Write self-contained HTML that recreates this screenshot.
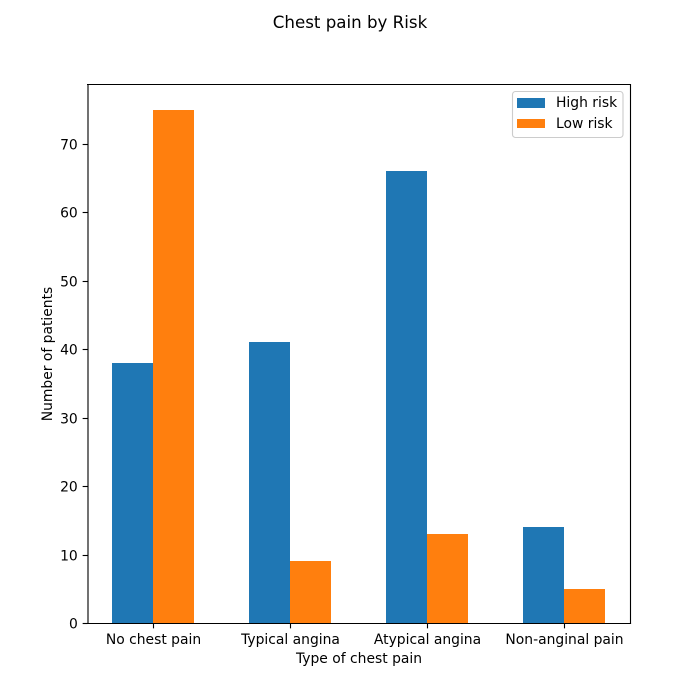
<!DOCTYPE html>
<html>
<head>
<meta charset="utf-8">
<style>
html,body{margin:0;padding:0;background:#fff;}
svg{display:block;}
text{font-family:"DejaVu Sans","Liberation Sans",sans-serif;fill:#000;}
</style>
</head>
<body>
<svg id="chart" width="700" height="700" viewBox="0 0 700 700" xmlns="http://www.w3.org/2000/svg">
<rect x="0" y="0" width="700" height="700" fill="#fff"/>
<text x="350" y="28" font-size="16.67" text-anchor="middle">Chest pain by Risk</text>
<g id="marks"></g>
<g id="axes"></g>
<text x="359" y="663" font-size="13.89" text-anchor="middle">Type of chest pain</text>
<text transform="translate(52 354) rotate(-90)" font-size="13.89" text-anchor="middle">Number of patients</text>
<g>
<rect x="512.5" y="91.5" width="110.5" height="46" rx="3" fill="#fff" fill-opacity="0.8" stroke="#ccc" stroke-width="1.11"/>
<rect x="517" y="98" width="28" height="10" fill="#1f77b4"/>
<text x="556" y="107" font-size="13.89">High risk</text>
<rect x="517" y="119" width="28" height="9" fill="#ff7f0e"/>
<text x="556" y="128" font-size="13.89">Low risk</text>
</g>
</svg>
<script>
const categories = ["No chest pain", "Typical angina", "Atypical angina", "Non-anginal pain"];
const highRisk = [38, 41, 66, 14];
const lowRisk = [75, 9, 13, 5];
const yTicks = [0, 10, 20, 30, 40, 50, 60, 70];

const NS = "http://www.w3.org/2000/svg";
const plot = {left: 87.5, right: 630, top: 84, bottom: 623};
const yMax = 78.75;
const slotWidth = 137;
const firstCenter = 153;
const barWidth = 41;
const lineWidth = 1.11;

function xCenter(i) { return firstCenter + i * slotWidth; }
function yPos(v) { return plot.bottom - (v / yMax) * (plot.bottom - plot.top); }

const marks = document.getElementById("marks");
const axes = document.getElementById("axes");

function drawBar(i, value, offset, color, name) {
  const top = Math.round(yPos(value));
  const r = document.createElementNS(NS, "rect");
  
  
  r.setAttribute("x", xCenter(i) + offset);
  r.setAttribute("y", top);
  r.setAttribute("width", barWidth);
  r.setAttribute("height", plot.bottom - top);
  r.setAttribute("fill", color);
  r.setAttribute("shape-rendering", "crispEdges");
  marks.appendChild(r);
}

categories.forEach(function (c, i) {
  drawBar(i, highRisk[i], -barWidth, "#1f77b4", "bar-high-risk");
  drawBar(i, lowRisk[i], 0, "#ff7f0e", "bar-low-risk");
});

function drawLine(x1, y1, x2, y2, name, cap) {
  const l = document.createElementNS(NS, "line");
  
  
  l.setAttribute("x1", x1);
  l.setAttribute("y1", y1);
  l.setAttribute("x2", x2);
  l.setAttribute("y2", y2);
  l.setAttribute("stroke", "#000");
  l.setAttribute("stroke-width", lineWidth);
  l.setAttribute("stroke-linecap", cap);
  axes.appendChild(l);
}

function drawLabel(x, y, str, anchor, name) {
  const t = document.createElementNS(NS, "text");
  
  
  t.setAttribute("x", x);
  t.setAttribute("y", y);
  t.setAttribute("font-size", "13.89");
  t.setAttribute("text-anchor", anchor);
  t.textContent = str;
  axes.appendChild(t);
}

const spineLeft = 88;
const spineRight = plot.right + 0.5;
const spineTop = plot.top + 0.5;
const spineBottom = plot.bottom + 0.5;

yTicks.forEach(function (v) {
  const y = Math.round(yPos(v)) + 0.5;
  drawLine(plot.left - 4.86, y, plot.left, y, "y-tick", "butt");
  drawLabel(plot.left - 9.72, y + 5, String(v), "end", "y-tick-label");
});

categories.forEach(function (c, i) {
  const x = xCenter(i) + 0.5;
  drawLine(x, spineBottom, x, spineBottom + 4.86, "x-tick", "butt");
  drawLabel(xCenter(i) + 0.5, 644, c, "middle", "x-tick-label");
});

drawLine(spineLeft - 1, spineTop, spineRight, spineTop, "axis-top-spine", "butt");
drawLine(spineLeft, spineBottom, spineRight, spineBottom, "axis-bottom-spine", "square");
drawLine(spineLeft, spineTop, spineLeft, spineBottom, "axis-left-spine", "square");
drawLine(spineRight, spineTop, spineRight, spineBottom, "axis-right-spine", "square");
</script>
</body>
</html>
